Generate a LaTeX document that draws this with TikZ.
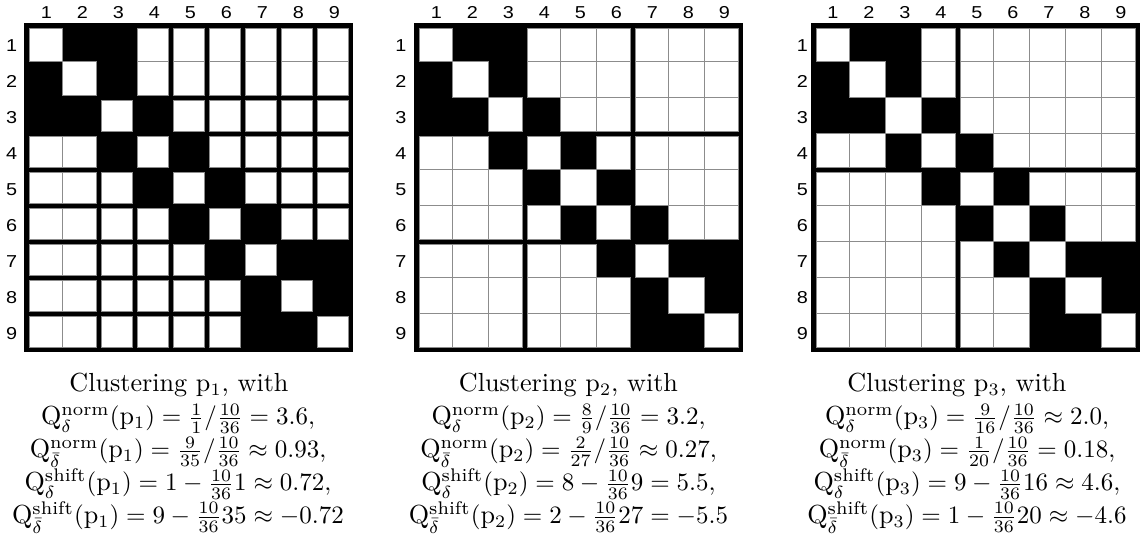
\documentclass[tikz,border=0pt]{standalone}
\usepackage{fontspec}
\usepackage{graphicx}
\newfontfamily\lblfont{Liberation Sans}
\newcommand\widedigit[1]{\scalebox{1.15}[1]{#1}}
\tikzset{
  cellw/.style={fill=white, draw=black!45, line width=0.4pt},
  lbl/.style={inner sep=0pt, font=\lblfont\fontsize{6.9}{8}\selectfont},
  captxt/.style={inner sep=0pt, anchor=base, font=\fontsize{10.45}{12.5}\selectfont},
}
% #1 = left grid line x, #2 = inset array macro, #3 = matrix name, #4 = row label offset
\newcommand\drawmat[4]{%
  \fill[black] (#1-2.5,23.3) rectangle (#1+326.5,352.3);
  \foreach \i in {1,...,9}{
    \foreach \j in {1,...,9}{
      \pgfmathtruncatemacro\blk{(abs(\i-\j)==1) || (abs(\i-\j)==2 && (\i+\j==4 || \i+\j==16))}
      \ifnum\blk=0
        \pgfmathtruncatemacro\jm{\j-1}
        \pgfmathtruncatemacro\im{\i-1}
        \pgfmathsetmacro\xa{#1+(\j-1)*36+#2[\jm]}
        \pgfmathsetmacro\xb{#1+\j*36-#2[\j]}
        \pgfmathsetmacro\ya{25.8+(\i-1)*36+#2[\im]}
        \pgfmathsetmacro\yb{25.8+\i*36-#2[\i]}
        \path[cellw] (\xa,\ya) rectangle (\xb,\yb);
      \fi
    }
  }
  \foreach \k in {1,...,9}{
    \node[lbl] (#3c\k) at (#1+\k*36-18+1.5,12.3) {\widedigit{\k}};
    \node[lbl] (#3r\k) at (#1-#4,25.8+\k*36-18+1.5) {\widedigit{\k}};
  }
}
\def\insA{{2.5,0,2.5,2.5,2.5,2.5,2.5,2.5,2.5,2.5}}
\def\insB{{2.5,0,0,2.5,0,0,2.5,0,0,2.5}}
\def\insC{{2.5,0,0,0,2.5,0,0,0,0,2.5}}
\begin{document}
\begin{tikzpicture}[x=0.4pt,y=-0.4pt]
\useasboundingbox (0,0) rectangle (1141,544);
\drawmat{26.8}{\insA}{ma}{15.1}
\drawmat{416.8}{\insB}{mb}{15.8}
\drawmat{813.5}{\insC}{mc}{11}
% captions
\node[captxt] (capa1) at (179,392) {Clustering $\mathrm{p}_1$, with};
\node[captxt] (capa2) at (178,425) {$\mathrm{Q}^{\mathrm{norm}}_{\delta}(\mathrm{p}_1) = \frac{1}{1}/\frac{10}{36} = 3.6,$};
\node[captxt] (capa3) at (178,458) {$\mathrm{Q}^{\mathrm{norm}}_{\bar\delta}(\mathrm{p}_1) = \frac{9}{35}/\frac{10}{36} \approx 0.93,$};
\node[captxt] (capa4) at (178,491) {$\mathrm{Q}^{\mathrm{shift}}_{\delta}(\mathrm{p}_1) = 1 - \frac{10}{36}1 \approx 0.72,$};
\node[captxt] (capa5) at (178,523.5) {$\mathrm{Q}^{\mathrm{shift}}_{\bar\delta}(\mathrm{p}_1) = 9 - \frac{10}{36}35 \approx -0.72$};
\node[captxt] (capb1) at (568.5,392) {Clustering $\mathrm{p}_2$, with};
\node[captxt] (capb2) at (568.5,425) {$\mathrm{Q}^{\mathrm{norm}}_{\delta}(\mathrm{p}_2) = \frac{8}{9}/\frac{10}{36} = 3.2,$};
\node[captxt] (capb3) at (568.5,458) {$\mathrm{Q}^{\mathrm{norm}}_{\bar\delta}(\mathrm{p}_2) = \frac{2}{27}/\frac{10}{36} \approx 0.27,$};
\node[captxt] (capb4) at (568.5,491) {$\mathrm{Q}^{\mathrm{shift}}_{\delta}(\mathrm{p}_2) = 8 - \frac{10}{36}9 = 5.5,$};
\node[captxt] (capb5) at (568.5,523.5) {$\mathrm{Q}^{\mathrm{shift}}_{\bar\delta}(\mathrm{p}_2) = 2 - \frac{10}{36}27 = -5.5$};
\node[captxt] (capc1) at (957,392) {Clustering $\mathrm{p}_3$, with};
\node[captxt] (capc2) at (967,425) {$\mathrm{Q}^{\mathrm{norm}}_{\delta}(\mathrm{p}_3) = \frac{9}{16}/\frac{10}{36} \approx 2.0,$};
\node[captxt] (capc3) at (967,458) {$\mathrm{Q}^{\mathrm{norm}}_{\bar\delta}(\mathrm{p}_3) = \frac{1}{20}/\frac{10}{36} = 0.18,$};
\node[captxt] (capc4) at (967,491) {$\mathrm{Q}^{\mathrm{shift}}_{\delta}(\mathrm{p}_3) = 9 - \frac{10}{36}16 \approx 4.6,$};
\node[captxt] (capc5) at (967,523.5) {$\mathrm{Q}^{\mathrm{shift}}_{\bar\delta}(\mathrm{p}_3) = 1 - \frac{10}{36}20 \approx -4.6$};
\end{tikzpicture}
\end{document}
